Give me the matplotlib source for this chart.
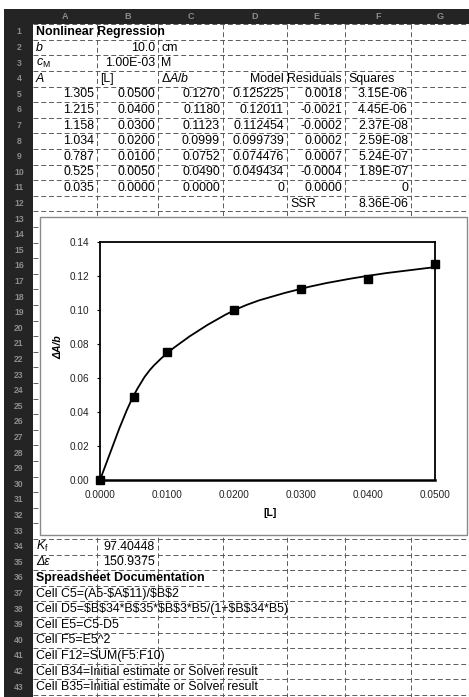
import numpy as np
import matplotlib
matplotlib.use('Agg')
import matplotlib.pyplot as plt
from matplotlib.path import Path
from matplotlib.patches import PathPatch, Rectangle

plt.rcParams['font.family'] = ['Liberation Sans', 'DejaVu Sans']
plt.rcParams['mathtext.fontset'] = 'custom'
plt.rcParams['mathtext.rm'] = 'Liberation Sans'
plt.rcParams['mathtext.it'] = 'Liberation Sans:italic'
plt.rcParams['mathtext.bf'] = 'Liberation Sans:bold'

# ---------------- data ----------------
A_abs = [1.305, 1.215, 1.158, 1.034, 0.787, 0.525, 0.035]
L_conc = [0.0500, 0.0400, 0.0300, 0.0200, 0.0100, 0.0050, 0.0000]
dA_over_b = [0.1270, 0.1180, 0.1123, 0.0999, 0.0752, 0.0490, 0.0000]
model_vals = [0.125225, 0.12011, 0.112454, 0.099739, 0.074476, 0.049434, 0.0]
residuals = [0.0018, -0.0021, -0.0002, 0.0002, 0.0007, -0.0004, 0.0000]
squares = [3.15e-06, 4.45e-06, 2.37e-08, 2.59e-08, 5.24e-07, 1.89e-07, 0.0]
ssr_value = 8.36e-06
path_b = 10.0
c_M_value = 1.00e-03
K_f_value = 97.40448
d_eps_value = 150.9375
doc_lines = [
    "Cell C5=(A5-$A$11)/$B$2",
    "Cell D5=$B$34*B$35*$B$3*B5/(1+$B$34*B5)",
    "Cell E5=C5-D5",
    "Cell F5=E5^2",
    "Cell F12=SUM(F5:F10)",
    "Cell B34=Initial estimate or Solver result",
    "Cell B35=Initial estimate or Solver result",
]
col_letters = ['A', 'B', 'C', 'D', 'E', 'F', 'G']
x_ticks = [0.0, 0.01, 0.02, 0.03, 0.04, 0.05]
y_ticks = [0.00, 0.02, 0.04, 0.06, 0.08, 0.10, 0.12, 0.14]

# ---------------- layout ----------------
W, H = 469, 697
ROW0 = 24.2
RH = 15.6
NROWS = 43
col_edges = [33, 97, 158, 223, 287, 345, 411, 469]
FS = 8.9


def rc(r):
    return ROW0 + (r - 0.5) * RH


fig = plt.figure(figsize=(W / 100, H / 100), dpi=100)
ax = fig.add_axes([0, 0, 1, 1])
ax.set_xlim(0, W)
ax.set_ylim(H, 0)
ax.axis('off')

grid_kw = dict(color='#5a5a5a', lw=0.7, ls=(0, (5, 3)), zorder=1)
for k in range(NROWS + 1):
    y = ROW0 + k * RH
    ax.plot([col_edges[0], W], [y, y], **grid_kw)
for x in col_edges[1:-1]:
    ax.plot([x, x], [ROW0, H], **grid_kw)

# header band and row-number column
ax.add_patch(Rectangle((4, 9), W - 4, ROW0 - 9, facecolor='#242424', edgecolor='none', zorder=2))
ax.add_patch(Rectangle((4, 9), col_edges[0] - 4, H - 9, facecolor='#242424', edgecolor='none', zorder=2))
for i, letter in enumerate(col_letters):
    xc = (col_edges[i] + col_edges[i + 1]) / 2
    ax.text(xc, (9 + ROW0) / 2, letter, ha='center', va='center', fontsize=6.5,
            color='#8c8c8c', fontweight='bold', zorder=3)
for r in range(1, NROWS + 1):
    ax.text(19, rc(r), str(r), ha='center', va='center', fontsize=6.2,
            color='#8c8c8c', fontweight='bold', zorder=3)


def left(col, r, s, **kw):
    ax.text(col_edges[col] + 3, rc(r), s, ha='left', va='center', fontsize=FS,
            zorder=4, parse_math=kw.pop('math', False), **kw)


def right(col, r, s, **kw):
    ax.text(col_edges[col + 1] - 3, rc(r), s, ha='right', va='center', fontsize=FS,
            zorder=4, parse_math=kw.pop('math', False), **kw)


left(0, 1, 'Nonlinear Regression', fontweight='bold')
left(0, 2, 'b', fontstyle='italic')
right(1, 2, f'{path_b:.1f}')
left(2, 2, 'cm')
left(0, 3, r'$c_{\mathrm{M}}$', math=True)
right(1, 3, f'{c_M_value:.2E}')
left(2, 3, 'M')
left(0, 4, 'A', fontstyle='italic')
left(1, 4, '[L]')
left(2, 4, r'$\Delta A/b$', math=True)
right(3, 4, 'Model')
right(4, 4, 'Residuals')
left(5, 4, 'Squares')
for i in range(len(A_abs)):
    r = 5 + i
    right(0, r, f'{A_abs[i]:.3f}')
    right(1, r, f'{L_conc[i]:.4f}')
    right(2, r, f'{dA_over_b[i]:.4f}')
    right(3, r, f'{model_vals[i]:g}')
    right(4, r, f'{residuals[i]:.4f}')
    right(5, r, '0' if squares[i] == 0 else f'{squares[i]:.2E}')
left(4, 12, 'SSR')
right(5, 12, f'{ssr_value:.2E}')
left(0, 34, r'$K_{\mathrm{f}}$', math=True)
right(1, 34, f'{K_f_value:.5f}')
left(0, 35, 'Δε', fontstyle='italic')
right(1, 35, f'{d_eps_value:.4f}')
left(0, 36, 'Spreadsheet Documentation', fontweight='bold')
for i, line in enumerate(doc_lines):
    left(0, 37 + i, line)

# chart frame
ax.add_patch(Rectangle((40, 217), 467 - 40, 535 - 217, facecolor='white',
                       edgecolor='#8a8a8a', lw=1.0, zorder=5))

# ---------------- chart ----------------
cx = fig.add_axes([100 / W, 1 - 480 / H, 335 / W, 238 / H], zorder=6)
cx.set_facecolor('white')
xs = np.array(L_conc)[::-1]
ys = np.array(model_vals)[::-1]
pts = np.column_stack([xs, ys])
n = len(pts)
verts = [pts[0]]
codes = [Path.MOVETO]
for i in range(n - 1):
    pp = pts[max(i - 1, 0)]
    p0 = pts[i]
    p1 = pts[i + 1]
    pn = pts[min(i + 2, n - 1)]
    verts += [p0 + (p1 - pp) / 6.0, p1 - (pn - p0) / 6.0, p1]
    codes += [Path.CURVE4] * 3
cx.add_patch(PathPatch(Path(verts, codes), facecolor='none', edgecolor='black',
                       lw=1.3, transform=cx.transData, clip_on=False))
cx.plot(L_conc, dA_over_b, linestyle='none', marker='s', markersize=5.3,
        color='black', clip_on=False, zorder=5)
cx.set_xlim(0, 0.05)
cx.set_ylim(0, 0.14)
cx.set_xticks(x_ticks)
cx.set_yticks(y_ticks)
cx.set_xticklabels([f'{v:.4f}' for v in x_ticks])
cx.set_yticklabels([f'{v:.2f}' for v in y_ticks])
for s in cx.spines.values():
    s.set_linewidth(1.3)
    s.set_color('black')
cx.spines['bottom'].set_linewidth(1.8)
cx.tick_params(axis='y', direction='out', length=2.5, width=0.8, labelsize=7.2,
               pad=5, labelcolor='#222222')
cx.tick_params(axis='x', direction='out', length=0, width=0.8, labelsize=7.2,
               pad=7, labelcolor='#222222')
fig.text(270 / W, 1 - 513 / H, '[L]', ha='center', va='center', fontsize=7.5,
         fontweight='bold', zorder=7)
fig.text(58 / W, 1 - 347 / H, 'ΔA/b', ha='center', va='center', fontsize=7.5,
         fontweight='bold', fontstyle='italic', rotation=90, zorder=7)

fig.savefig('out.png', dpi=100)
